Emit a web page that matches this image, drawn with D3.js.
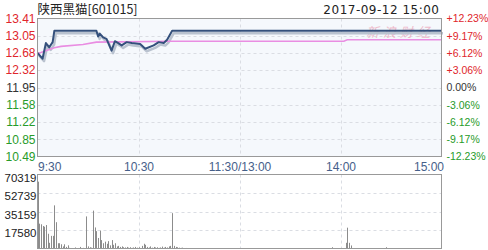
<!DOCTYPE html>
<html><head><meta charset="utf-8">
<script src="https://cdn.jsdelivr.net/npm/d3@7"></script>
<style>
html,body{margin:0;padding:0;background:#fff;}
svg{display:block;font-family:"Liberation Sans",Arial,sans-serif;}
</style></head>
<body><svg id="c" width="488" height="250"></svg>
<script>
// ---- data ----
const title = "陕西黑猫[601015]";
const dateText = "2017-09-12 15:00";
const prevClose = 11.95;
const priceTicks = [13.41, 13.05, 12.68, 12.32, 11.95, 11.58, 11.22, 10.85, 10.49];
const pctTicks = [12.23, 9.17, 6.12, 3.06, 0, -3.06, -6.12, -9.17, -12.23];
const timeTickMinutes = [0, 60, 120, 180, 240];
const timeTickLabels = ["9:30", "10:30", "11:30/13:00", "14:00", "15:00"];
const volTicks = [70319, 52739, 35159, 17580];
// price path: [minute since 9:30, price]
const priceMinutes = [0, 3, 5, 7, 9, 10, 35, 36, 37, 39, 41, 44, 46, 48, 50, 53, 56, 61, 64, 69, 72, 75, 77, 80, 240];
const priceValues  = [12.68, 12.56, 12.89, 12.80, 12.91, 13.15, 13.15, 13.03, 13.09, 13.01, 12.98, 12.73, 12.93, 12.89, 12.84, 12.91, 12.89, 12.87, 12.77, 12.84, 12.91, 12.89, 12.96, 13.15, 13.15];
// average price
const avgMinutes = [0, 2, 10, 14, 27, 35, 80, 182, 184, 240];
const avgValues  = [12.67, 12.69, 12.79, 12.82, 12.86, 12.91, 12.93, 12.93, 12.96, 12.96];
// volume bars: minute and volume
const volMinutes = [0,1,2,3,4,5,6,7,8,9,10,11,12,13,14,15,16,17,18,19,20,22,24,25,27,29,30,31,32,33,34,35,36,37,38,39,40,41,42,43,44,45,46,47,48,49,50,51,52,53,54,55,56,57,58,59,60,62,63,64,65,66,67,68,69,70,71,72,73,74,75,76,77,78,79,80,81,82,83,84,85,86,88,90,95,100,104,108,115,175,183,184,185,186,207];
const volValues  = [63500,23600,23000,21400,20700,22300,14000,5400,12000,12000,41000,25000,5000,5000,4000,2000,4000,1500,3000,600,400,1000,500,1500,600,30500,2000,1200,800,36000,20000,16500,10000,17000,8000,5000,6500,4500,7000,3000,8000,3500,5000,2000,2500,1500,2000,1200,1000,1500,800,1200,600,1000,1500,800,1200,2500,4500,3500,1500,1000,2000,800,1500,1000,1200,600,1000,1800,800,1500,1000,2000,2500,33600,2500,1500,1200,800,600,800,500,400,300,300,300,300,200,1200,5400,19800,5400,2900,1200];

// ---- layout ----
const L = 37.5, R = 441.5, mTop = 18.5, mBot = 156.5, vTop = 174.5, vBot = 248.5;
const svg = d3.select("#c");
const x = d3.scaleLinear().domain([0, 240]).range([L, R]);
const yP = d3.scaleLinear().domain([priceTicks[8], priceTicks[0]]).range([mBot, mTop]);
const yPct = d3.scaleLinear().domain([-12.23, 12.23]).range([mBot, mTop]);
const yV = d3.scaleLinear().domain([0, volTicks[0]]).range([vBot, vTop]);
const red = "#e0262c", green = "#279b2a", grid = "#dadde3";

// backgrounds
svg.append("rect").attr("x", L).attr("y", mTop).attr("width", R - L).attr("height", mBot - mTop).attr("fill", "#f5f8fc");
svg.append("rect").attr("x", L).attr("y", vTop).attr("width", R - L).attr("height", vBot - vTop).attr("fill", "#fff");

// grid main
svg.append("g").selectAll("line").data(priceTicks.slice(1, -1)).join("line")
  .attr("x1", L).attr("x2", R).attr("y1", d => Math.round(yP(d)) + 0.5).attr("y2", d => Math.round(yP(d)) + 0.5)
  .attr("stroke", grid).attr("stroke-dasharray", "3,3");
svg.append("g").selectAll("line").data(timeTickMinutes.slice(1, -1)).join("line")
  .attr("x1", d => Math.round(x(d)) + 0.5).attr("x2", d => Math.round(x(d)) + 0.5).attr("y1", mTop).attr("y2", mBot)
  .attr("stroke", grid).attr("stroke-dasharray", "3,3");
// grid volume
svg.append("g").selectAll("line").data(volTicks.slice(1)).join("line")
  .attr("x1", L).attr("x2", R).attr("y1", d => Math.round(yV(d)) + 0.5).attr("y2", d => Math.round(yV(d)) + 0.5)
  .attr("stroke", grid).attr("stroke-dasharray", "3,3");
svg.append("g").selectAll("line").data(timeTickMinutes.slice(1, -1)).join("line")
  .attr("x1", d => Math.round(x(d)) + 0.5).attr("x2", d => Math.round(x(d)) + 0.5).attr("y1", vTop).attr("y2", vBot)
  .attr("stroke", grid).attr("stroke-dasharray", "3,3");

// watermark
svg.append("text").attr("x", 400).attr("y", 37).attr("text-anchor", "middle")
  .attr("font-family", "'Noto Sans CJK SC',sans-serif").attr("font-size", 13).attr("font-style", "italic")
  .attr("letter-spacing", 4).attr("fill", "#eeb4c6").attr("opacity", 0.9).text("新浪财经");

// volume bars
const vols = volMinutes.map((m, i) => ({ m, v: volValues[i] }));
svg.append("g").selectAll("rect").data(vols).join("rect")
  .attr("x", d => Math.round(x(d.m))).attr("width", 1)
  .attr("y", d => yV(d.v)).attr("height", d => vBot - yV(d.v))
  .attr("fill", "#8c8c8c");

// lines
const pts = priceMinutes.map((m, i) => [m, priceValues[i]]);
const avg = avgMinutes.map((m, i) => [m, avgValues[i]]);
const line = d3.line().x(d => x(d[0])).y(d => yP(d[1]));
svg.append("path").attr("d", line(pts)).attr("fill", "none").attr("stroke", "#b9c2cf").attr("stroke-width", 2.5)
  .attr("transform", "translate(1.5,2.5)").attr("stroke-linejoin", "round");
svg.append("path").attr("d", line(avg)).attr("fill", "none").attr("stroke", "#e98de2").attr("stroke-width", 1.6);
svg.append("path").attr("d", line(pts)).attr("fill", "none").attr("stroke", "#34507c").attr("stroke-width", 2)
  .attr("stroke-linejoin", "round");

// borders
svg.append("rect").attr("x", L).attr("y", mTop).attr("width", R - L).attr("height", mBot - mTop).attr("fill", "none").attr("stroke", "#999");
svg.append("rect").attr("x", L).attr("y", vTop).attr("width", R - L).attr("height", vBot - vTop).attr("fill", "none").attr("stroke", "#999");

// axes
const ax = svg.append("g").attr("transform", `translate(${L - 1},0)`)
  .call(d3.axisLeft(yP).tickValues(priceTicks).tickSize(0).tickPadding(1).tickFormat(d3.format(".2f")));
ax.select(".domain").remove();
ax.selectAll("text").attr("font-size", 12).attr("font-family", "'Liberation Sans',Arial,sans-serif")
  .attr("fill", d => d > prevClose ? red : d < prevClose ? green : "#333");

const axr = svg.append("g").attr("transform", `translate(${R + 5},0)`)
  .call(d3.axisRight(yPct).tickValues(pctTicks).tickSize(0).tickPadding(0)
    .tickFormat(d => (d > 0 ? "+" : "") + d.toFixed(2) + "%"));
axr.select(".domain").remove();
axr.selectAll("text").attr("font-size", 10.5).attr("font-family", "'Liberation Sans',Arial,sans-serif")
  .attr("fill", d => d > 0 ? red : d < 0 ? green : "#333");

const axt = svg.append("g").attr("transform", `translate(0,${mBot + 4})`)
  .call(d3.axisBottom(x).tickValues(timeTickMinutes).tickSize(0).tickPadding(2)
    .tickFormat((d, i) => timeTickLabels[i]));
axt.select(".domain").remove();
axt.selectAll("text").attr("font-size", 12).attr("font-family", "'Liberation Sans',Arial,sans-serif").attr("fill", "#46608a")
  .attr("text-anchor", (d, i) => i === 0 ? "start" : i === timeTickMinutes.length - 1 ? "end" : "middle")
  .attr("dx", (d, i) => i === 0 ? 0 : i === timeTickMinutes.length - 1 ? 2 : 0);

const axv = svg.append("g").attr("transform", `translate(${L},3)`)
  .call(d3.axisLeft(yV).tickValues(volTicks).tickSize(0).tickPadding(1).tickFormat(d3.format("d")));
axv.select(".domain").remove();
axv.selectAll("text").attr("font-size", 11.5).attr("font-family", "'Liberation Sans',Arial,sans-serif").attr("fill", "#222");

// title & date
svg.append("text").attr("x", L).attr("y", 14).attr("font-size", 12.5)
  .attr("font-family", "'Noto Sans CJK SC','Liberation Sans',sans-serif").attr("fill", "#222").text(title);
svg.append("text").attr("x", R - 2).attr("y", 14).attr("text-anchor", "end").attr("font-size", 12)
  .attr("letter-spacing", 0.5)
  .attr("font-family", "'DejaVu Sans','Liberation Sans',sans-serif").attr("fill", "#222").text(dateText);
</script></body></html>
